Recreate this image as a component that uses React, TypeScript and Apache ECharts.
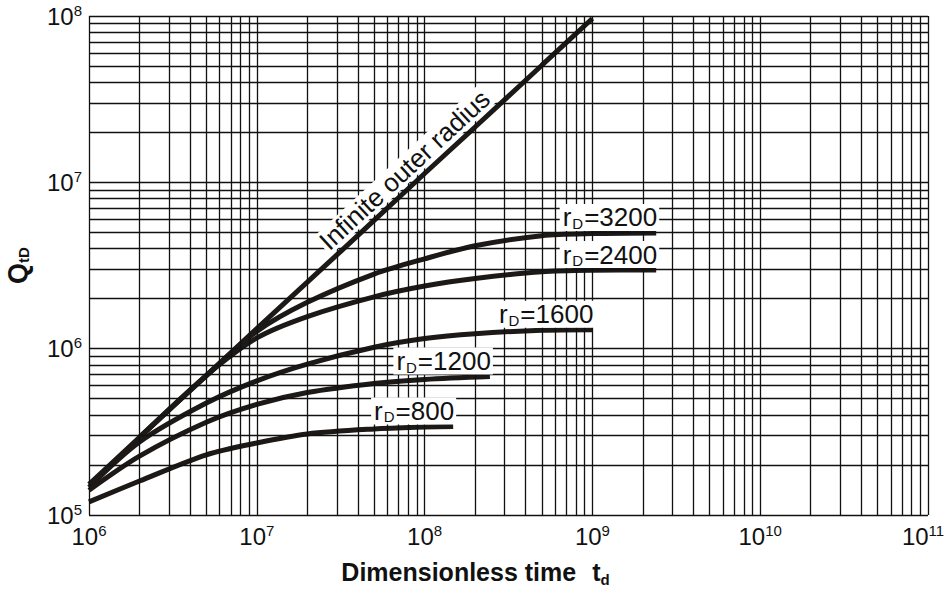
import React, { useEffect, useRef } from 'react';
import * as echarts from 'echarts';

// ---- data ----
const infiniteT = [1e6, 2e6, 5e6, 1e7, 2e7, 5e7, 1e8, 2e8, 5e8, 1e9];
const infiniteQ = [1.53e5, 2.93e5, 6.89e5, 1.32e6, 2.51e6, 5.9e6, 1.13e7, 2.15e7, 5.06e7, 9.66e7];

const rd3200T = [2e6, 5e6, 1e7, 2e7, 5e7, 1e8, 2e8, 5e8, 1e9, 2.4e9];
const rd3200Q = [2.93e5, 6.89e5, 1.27e6, 1.9e6, 2.81e6, 3.47e6, 4.16e6, 4.78e6, 4.92e6, 4.96e6];

const rd2400T = [2e6, 5e6, 1e7, 2e7, 5e7, 1e8, 2e8, 5e8, 1e9, 2.4e9];
const rd2400Q = [2.93e5, 6.89e5, 1.16e6, 1.56e6, 2.05e6, 2.38e6, 2.64e6, 2.9e6, 2.96e6, 2.97e6];

const rd1600T = [1e6, 2e6, 5e6, 1e7, 2e7, 5e7, 1e8, 2e8, 5e8, 1e9];
const rd1600Q = [1.47e5, 2.75e5, 4.71e5, 6.4e5, 8.07e5, 1.02e6, 1.15e6, 1.23e6, 1.29e6, 1.3e6];

const rd1200T = [1e6, 2e6, 5e6, 1e7, 2e7, 5e7, 1e8, 2.45e8];
const rd1200Q = [1.41e5, 2.26e5, 3.61e5, 4.62e5, 5.45e5, 6.18e5, 6.53e5, 6.8e5];

const rd800T = [1e6, 2e6, 5e6, 1e7, 2e7, 5e7, 1e8, 1.48e8];
const rd800Q = [1.2e5, 1.6e5, 2.3e5, 2.71e5, 3.07e5, 3.29e5, 3.38e5, 3.41e5];

const rdValues = [3200, 2400, 1600, 1200, 800];
const infiniteLabel = 'Infinite outer radius';
const xAxisTitle = 'Dimensionless time';

// grid line values (1..9 x each decade)
const multipliers = [1, 2, 3, 4, 5, 6, 7, 8, 9];
const xDecades = [6, 7, 8, 9, 10];
const yDecades = [5, 6, 7];

const FONT = '"Liberation Sans", Arial, Helvetica, sans-serif';
const INK = '#1c1917';

export default function App() {
  const ref = useRef<HTMLDivElement>(null);
  useEffect(() => {
    if (!ref.current) return;
    const chart = echarts.init(ref.current, undefined, { renderer: 'svg' });

    const xGrid = [...xDecades.flatMap((d) => multipliers.map((m) => m * Math.pow(10, d))), 1e11];
    const yGrid = [...yDecades.flatMap((d) => multipliers.map((m) => m * Math.pow(10, d))), 1e8];

    const labelRich = {
      r: { fontFamily: FONT, fontSize: 26, color: '#111', lineHeight: 27 },
      d: { fontFamily: FONT, fontSize: 15, color: '#111', verticalAlign: 'bottom', lineHeight: 14, padding: [0, 1, 0, 1] },
    };

    const curveSets = [
      { t: rd3200T, q: rd3200Q, rd: rdValues[0] },
      { t: rd2400T, q: rd2400Q, rd: rdValues[1] },
      { t: rd1600T, q: rd1600Q, rd: rdValues[2] },
      { t: rd1200T, q: rd1200Q, rd: rdValues[3] },
      { t: rd800T, q: rd800Q, rd: rdValues[4] },
    ];

    const curveSeries = curveSets.map((c) => ({
      type: 'line',
      name: 'rD=' + c.rd,
      data: c.t.map((t, i) => [t, c.q[i]]),
      showSymbol: false,
      symbol: 'none',
      smooth: 0.3,
      silent: true,
      z: 3,
      lineStyle: { color: INK, width: 5, cap: 'butt' },
      markPoint: {
        silent: true,
        symbol: 'circle',
        symbolSize: 0,
        z: 6,
        data: [{ coord: [c.t[c.t.length - 1], c.q[c.q.length - 1]], value: c.rd }],
        label: {
          show: true,
          position: 'inside',
          align: 'right',
          verticalAlign: 'bottom',
          offset: [3, -2],
          color: '#111',
          backgroundColor: '#fff',
          padding: [0, 2, 0, 3],
          formatter: `{r|r}{d|D}{r|=${c.rd}}`,
          rich: labelRich,
        },
      },
    }));

    const infiniteSeries = {
      type: 'line',
      name: infiniteLabel,
      data: infiniteT.map((t, i) => [t, infiniteQ[i]]),
      showSymbol: false,
      symbol: 'none',
      smooth: 0.2,
      silent: true,
      z: 3,
      lineStyle: { color: INK, width: 5, cap: 'butt' },
      markPoint: {
        silent: true,
        symbol: 'circle',
        symbolSize: 0,
        z: 6,
        data: [{ coord: [7.6e7, 1.19e7], value: 0 }],
        label: {
          show: true,
          position: 'inside',
          align: 'center',
          verticalAlign: 'middle',
          rotate: 42.8,
          color: '#111',
          backgroundColor: '#fff',
          padding: [0, 2, 0, 2],
          fontFamily: FONT,
          fontSize: 26,
          lineHeight: 25,
          formatter: infiniteLabel,
        },
      },
    };

    const gridSeries = {
      type: 'line',
      name: 'grid',
      data: [[1e6, 1e5]],
      showSymbol: false,
      symbol: 'none',
      silent: true,
      z: 1,
      lineStyle: { width: 0 },
      markLine: {
        silent: true,
        symbol: ['none', 'none'],
        animation: false,
        label: { show: false },
        emphasis: { disabled: true },
        lineStyle: { color: '#111', width: 1.3, type: 'solid' },
        data: [...xGrid.map((v) => ({ xAxis: v })), ...yGrid.map((v) => ({ yAxis: v }))],
      },
    };

    const tickRich = {
      b: { fontFamily: FONT, fontSize: 24, color: '#111', lineHeight: 27 },
      s: { fontFamily: FONT, fontSize: 15, color: '#111', verticalAlign: 'top', lineHeight: 15 },
      e: { fontFamily: FONT, fontSize: 15, color: '#111', verticalAlign: 'top', lineHeight: 15, padding: [0, 10, 0, 0] },
    };
    const tickFormatter = (v: number) => {
      const p = Math.round(Math.log10(v));
      return p >= 11 ? `{b|10}{e|${p}}` : `{b|10}{s|${p}}`;
    };

    chart.setOption({
      animation: false,
      backgroundColor: '#fff',
      grid: { left: 89, right: 19, top: 16, bottom: 77, containLabel: false, outerBoundsMode: 'none' },
      xAxis: {
        type: 'log',
        logBase: 10,
        min: 1e6,
        max: 1e11,
        axisLine: { show: false },
        axisTick: { show: false },
        splitLine: { show: false },
        axisLabel: { margin: 8, formatter: tickFormatter, rich: tickRich, showMinLabel: true, showMaxLabel: true },
        name: `{b|${xAxisTitle}}{t|t}{s|d}`,
        nameLocation: 'middle',
        nameGap: 42,
        nameTextStyle: {
          padding: [0, 66, 0, 0],
          rich: {
            b: { fontFamily: FONT, fontSize: 25, fontWeight: 'bold', color: '#111', lineHeight: 30 },
            t: { fontFamily: FONT, fontSize: 25, fontWeight: 'bold', color: '#111', lineHeight: 30, padding: [0, 0, 0, 16] },
            s: { fontFamily: FONT, fontSize: 15, fontWeight: 'bold', color: '#111', verticalAlign: 'bottom', lineHeight: 14 },
          },
        },
      },
      yAxis: {
        type: 'log',
        logBase: 10,
        min: 1e5,
        max: 1e8,
        axisLine: { show: false },
        axisTick: { show: false },
        splitLine: { show: false },
        axisLabel: { margin: 7, formatter: tickFormatter, rich: tickRich, showMinLabel: true, showMaxLabel: true },
        name: '{q|Q}{s|tD}',
        nameLocation: 'middle',
        nameRotate: 90,
        nameGap: 58,
        nameTextStyle: {
          rich: {
            q: { fontFamily: FONT, fontSize: 27, fontWeight: 'bold', color: '#111', lineHeight: 26 },
            s: { fontFamily: FONT, fontSize: 15, fontWeight: 'bold', color: '#111', verticalAlign: 'bottom', lineHeight: 14 },
          },
        },
      },
      series: [gridSeries, infiniteSeries, ...curveSeries],
    });

    return () => chart.dispose();
  }, []);

  return <div ref={ref} style={{ position: 'fixed', left: 0, top: 0, width: 947, height: 592 }} />;
}
